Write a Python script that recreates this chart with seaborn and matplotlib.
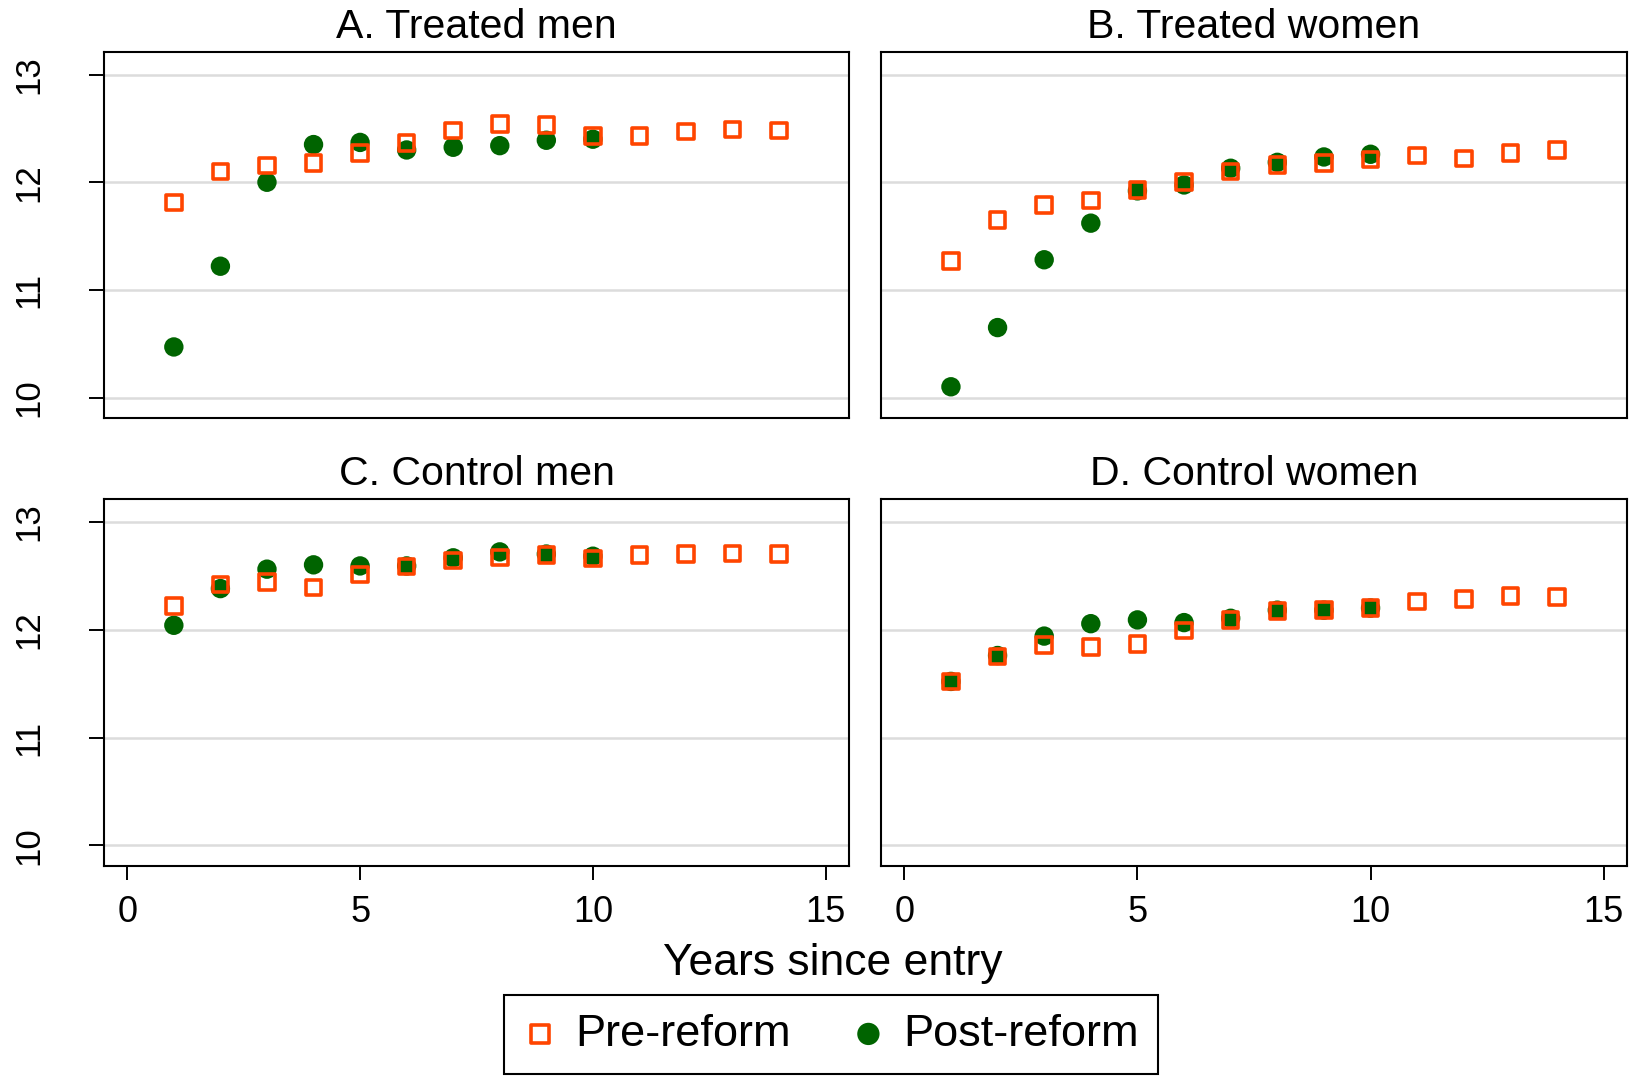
import numpy as np
import pandas as pd
import matplotlib
matplotlib.use("Agg")
import matplotlib.pyplot as plt
import seaborn as sns

# Years since entry
years_pre = list(range(1, 15))
years_post = list(range(1, 11))

# A. Treated men
treated_men_pre = [11.81, 12.10, 12.155, 12.18, 12.27, 12.365, 12.48,
                   12.54, 12.53, 12.43, 12.43, 12.47, 12.49, 12.48]
treated_men_post = [10.47, 11.22, 12.00, 12.35, 12.37, 12.30, 12.325,
                    12.34, 12.39, 12.40]

# B. Treated women
treated_women_pre = [11.27, 11.65, 11.79, 11.83, 11.93, 12.00, 12.10,
                     12.16, 12.18, 12.21, 12.25, 12.22, 12.27, 12.30]
treated_women_post = [10.10, 10.65, 11.28, 11.62, 11.92, 11.975, 12.13,
                      12.185, 12.235, 12.26]

# C. Control men
control_men_pre = [12.22, 12.42, 12.44, 12.39, 12.51, 12.585, 12.64,
                   12.67, 12.69, 12.66, 12.69, 12.70, 12.705, 12.70]
control_men_post = [12.04, 12.38, 12.56, 12.60, 12.59, 12.59, 12.665,
                    12.72, 12.70, 12.68]

# D. Control women
control_women_pre = [11.52, 11.75, 11.855, 11.84, 11.865, 11.99, 12.09,
                     12.17, 12.18, 12.20, 12.26, 12.285, 12.31, 12.30]
control_women_post = [11.52, 11.76, 11.94, 12.055, 12.09, 12.065, 12.105,
                      12.18, 12.18, 12.20]

panel_titles = ["A. Treated men", "B. Treated women",
                "C. Control men", "D. Control women"]
series_labels = ["Pre-reform", "Post-reform"]
x_ticks = [0, 5, 10, 15]
y_ticks = [10, 11, 12, 13]

panels = [
    (treated_men_pre, treated_men_post),
    (treated_women_pre, treated_women_post),
    (control_men_pre, control_men_post),
    (control_women_pre, control_women_post),
]

PRE_COLOR = "#FF4500"
POST_COLOR = "#006400"
GRID_COLOR = "#DCDCDC"

sns.set_theme(style="white")
plt.rcParams["font.family"] = ["Liberation Sans", "DejaVu Sans"]
plt.rcParams["text.color"] = "black"
plt.rcParams["axes.labelcolor"] = "black"
plt.rcParams["xtick.color"] = "black"
plt.rcParams["ytick.color"] = "black"

W, H = 1640, 1076
fig = plt.figure(figsize=(W / 100, H / 100), dpi=100)

# axes boxes in pixels: left, top, right, bottom
boxes = [
    (104, 52, 849, 418),
    (881, 52, 1627, 418),
    (104, 499, 849, 866),
    (881, 499, 1627, 866),
]

axes = []
for i, (box, (pre, post), title) in enumerate(zip(boxes, panels, panel_titles)):
    l, t, r, b = box
    ax = fig.add_axes([l / W, 1 - b / H, (r - l) / W, (b - t) / H])
    axes.append(ax)

    for yv in y_ticks:
        ax.axhline(yv, color=GRID_COLOR, lw=1.8, zorder=0)

    df_post = pd.DataFrame({"year": years_post, "value": post})
    df_pre = pd.DataFrame({"year": years_pre, "value": pre})
    sns.scatterplot(data=df_post, x="year", y="value", ax=ax, marker="o",
                    color=POST_COLOR, s=195, edgecolor="none",
                    label=series_labels[1], legend=False, zorder=3)
    sns.scatterplot(data=df_pre, x="year", y="value", ax=ax, marker="s",
                    facecolor="none", edgecolor=PRE_COLOR, linewidth=2.6,
                    s=125, label=series_labels[0], legend=False, zorder=4)

    ax.set_xlim(-0.5, 15.5)
    ax.set_ylim(9.81, 13.21)
    ax.set_xlabel("")
    ax.set_ylabel("")
    ax.set_title(title, fontsize=29.5, pad=10, color="black")

    for sp in ax.spines.values():
        sp.set_color("black")
        sp.set_linewidth(1.5)

    ax.set_xticks(x_ticks)
    ax.set_yticks(y_ticks)
    bottom_row = i >= 2
    left_col = i % 2 == 0
    ax.tick_params(axis="x", bottom=bottom_row, labelbottom=bottom_row,
                   direction="out", length=10, width=1.4, pad=11,
                   labelsize=26, color="black")
    ax.tick_params(axis="y", left=left_col, labelleft=left_col,
                   direction="out", length=11, width=1.4, pad=43,
                   labelsize=25, color="black")
    if left_col:
        for lab in ax.get_yticklabels():
            lab.set_rotation(90)
            lab.set_va("center")
            lab.set_ha("center")

fig.text(833 / W, 1 - 975 / H, "Years since entry", ha="center",
         va="baseline", fontsize=32)

handles, labels = axes[0].get_legend_handles_labels()
order = [labels.index(series_labels[0]), labels.index(series_labels[1])]
leg = fig.legend([handles[k] for k in order], [labels[k] for k in order],
                 loc="lower center", bbox_to_anchor=(831 / W, 0.0),
                 ncol=2, fontsize=32.5, frameon=True, fancybox=False,
                 edgecolor="black", framealpha=1, markerscale=1.15,
                 handlelength=0.75, handletextpad=0.4, columnspacing=1.35,
                 borderpad=0.42, borderaxespad=0.05)
leg.get_frame().set_linewidth(1.5)

fig.savefig("out.png", dpi=100, facecolor="white")
